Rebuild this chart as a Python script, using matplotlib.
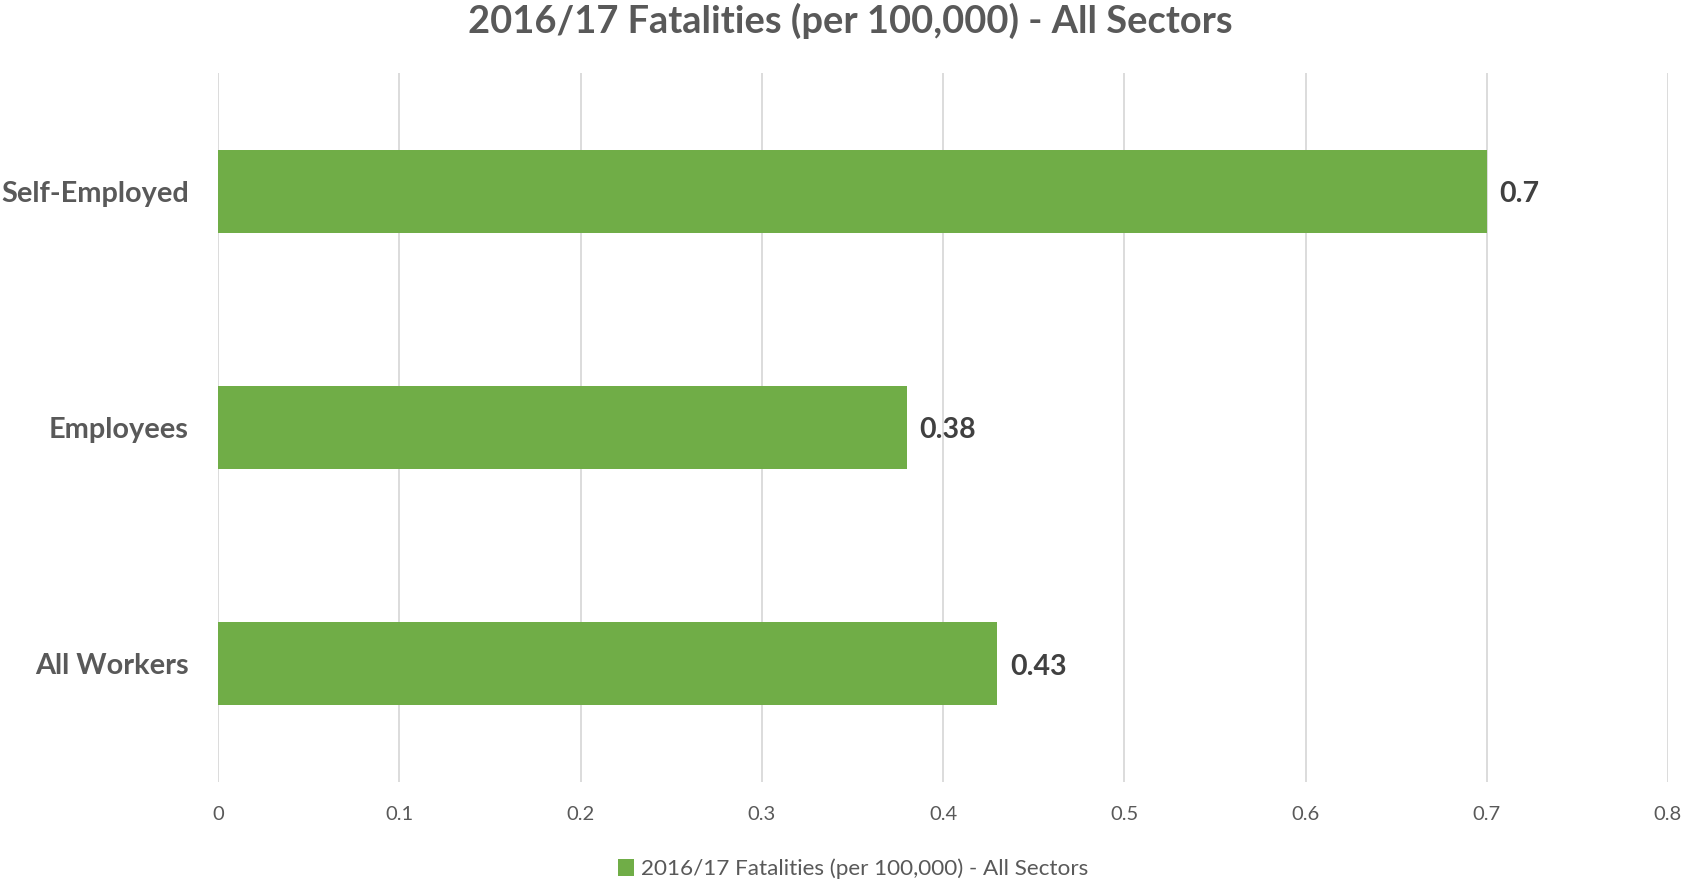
import matplotlib
matplotlib.use("Agg")
import matplotlib.pyplot as plt
from matplotlib.patches import Patch

categories = ["All Workers", "Employees", "Self-Employed"]
values = [0.43, 0.38, 0.7]
value_labels = ["0.43", "0.38", "0.7"]
xticks = [0, 0.1, 0.2, 0.3, 0.4, 0.5, 0.6, 0.7, 0.8]
xtick_labels = ["0", "0.1", "0.2", "0.3", "0.4", "0.5", "0.6", "0.7", "0.8"]
title = "2016/17 Fatalities (per 100,000) - All Sectors"
series_name = "2016/17 Fatalities (per 100,000) - All Sectors"

GREEN = "#70AD47"
TEXT = "#595959"
GRID = "#D9D9D9"

plt.rcParams['font.family'] = ['Lato', 'DejaVu Sans']

W, H = 1684, 881
fig = plt.figure(figsize=(W / 100, H / 100), dpi=100)
ax = fig.add_axes([218 / W, 1 - 782 / H, (1668 - 218) / W, (782 - 73) / H])

ypos = list(range(len(categories)))
ax.barh(ypos, values, height=0.35, color=GREEN, zorder=3)
ax.set_xlim(0, 0.8)
ax.set_ylim(-0.5, len(categories) - 0.5)
ax.set_xticks(xticks)
ax.set_xticklabels(xtick_labels, color=TEXT, fontsize=14.5)
ax.set_yticks(ypos)
ax.set_yticklabels(categories, color=TEXT, fontsize=20.8, fontweight='bold')
ax.tick_params(axis='x', length=0, pad=17)
ax.tick_params(axis='y', length=0, pad=21)
ax.grid(axis='x', color=GRID, linewidth=1.3, zorder=0)
for s in ax.spines.values():
    s.set_visible(False)

for y, v, lab in zip(ypos, values, value_labels):
    ax.annotate(lab, (v, y), xytext=(9, -2), textcoords='offset points',
                va='center', ha='left', fontsize=20.5, fontweight='bold', color="#404040")

fig.text(850 / W, 1 - 21 / H, title, ha='center', va='center', fontsize=27.4,
         fontweight='bold', color=TEXT)

handle = Patch(facecolor=GREEN, edgecolor='none')
fig.legend([handle], [series_name], loc='center', bbox_to_anchor=(853 / W, 1 - 869 / H),
           frameon=False, fontsize=16.2, handlelength=0.75, handleheight=0.75,
           handletextpad=0.3, labelcolor=TEXT)

fig.savefig("out.png", dpi=100, facecolor='white')
